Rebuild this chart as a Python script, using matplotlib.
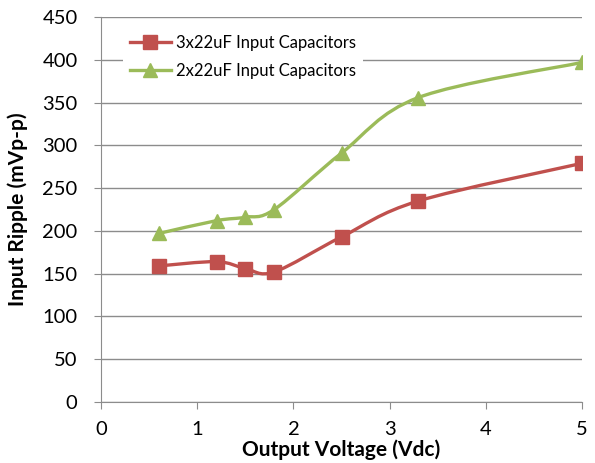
import matplotlib
matplotlib.use('Agg')
import matplotlib.pyplot as plt
from matplotlib.path import Path
from matplotlib.patches import PathPatch
from matplotlib.lines import Line2D
import numpy as np

plt.rcParams['font.family'] = ['Lato', 'DejaVu Sans']

vout = [0.6, 1.2, 1.5, 1.8, 2.5, 3.3, 5.0]
ripple_3x22 = [159, 164, 156, 152, 193, 235, 279]
ripple_2x22 = [197, 212, 216, 225, 291, 356, 397]
labels = ['3x22uF Input Capacitors', '2x22uF Input Capacitors']
colors = ['#C0504D', '#9BBB59']
markers = ['s', '^']


def smooth_path(x, y):
    # Excel-style smoothed line: cubic Bezier through the points
    p = np.column_stack([x, y]).astype(float)
    n = len(p)
    verts = [p[0]]
    codes = [Path.MOVETO]
    for i in range(n - 1):
        p0 = p[i - 1] if i > 0 else p[i]
        p3 = p[i + 2] if i + 2 < n else p[i + 1]
        c1 = p[i] + (p[i + 1] - p0) / 6
        c2 = p[i + 1] - (p3 - p[i]) / 6
        verts += [c1, c2, p[i + 1]]
        codes += [Path.CURVE4] * 3
    return Path(verts, codes)


fig = plt.figure(figsize=(5.95, 4.63), dpi=100)
ax = fig.add_axes([0.170, 0.132, 0.808, 0.831])

handles = []
for ys, lab, c, m in zip([ripple_3x22, ripple_2x22], labels, colors, markers):
    ax.add_patch(PathPatch(smooth_path(vout, ys), fill=False, edgecolor=c, lw=2.4, zorder=3))
    ax.plot(vout, ys, ls='none', marker=m, ms=9.5, color=c, zorder=4)
    handles.append(Line2D([], [], color=c, lw=2.4, marker=m, ms=9.5))

ax.set_xlim(0, 5)
ax.set_ylim(0, 450)
ax.set_xticks(range(0, 6))
ax.set_yticks(range(0, 451, 50))
ax.yaxis.grid(True, color='#8c8c8c', lw=1)
ax.set_axisbelow(True)
for s in ['top', 'right']:
    ax.spines[s].set_visible(False)
for s in ['left', 'bottom']:
    ax.spines[s].set_color('#8c8c8c')
ax.tick_params(axis='both', colors='#8c8c8c', labelcolor='black', labelsize=14.5, length=5)
ax.tick_params(axis='x', pad=9)
ax.tick_params(axis='y', pad=12)

ax.set_xlabel('Output Voltage (Vdc)', fontsize=15, fontweight='bold', labelpad=1)
ax.set_ylabel('Input Ripple (mVp-p)', fontsize=15, fontweight='bold', labelpad=10)

leg = ax.legend(handles, labels, loc='upper left', bbox_to_anchor=(0.035, 0.985),
                frameon=True, fontsize=12, handlelength=2.5, fancybox=False,
                edgecolor='none', framealpha=1, borderaxespad=0.3, labelspacing=0.75,
                handletextpad=0.3)

fig.savefig('out.png', dpi=100)
